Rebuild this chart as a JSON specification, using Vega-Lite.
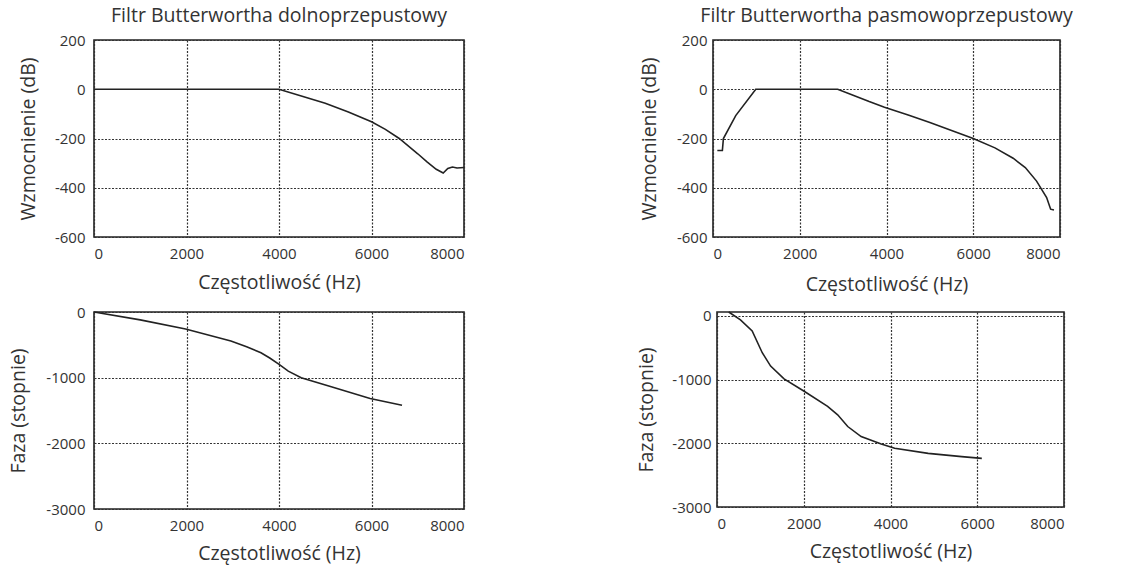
{
  "$schema": "https://vega.github.io/schema/vega-lite/v6.json",
  "background": "white",
  "padding": {"left": 8, "top": 4, "right": 5, "bottom": 2},
  "config": {
    "font": "Open Sans",
    "view": {"stroke": "#222", "strokeWidth": 1.6},
    "axis": {
      "domain": false, "ticks": false, "grid": true,
      "gridColor": "#333", "gridDash": [2, 1.5], "gridWidth": 1.2,
      "labelFont": "Open Sans", "labelFontSize": 15, "labelColor": "#333",
      "titleFont": "Open Sans", "titleFontSize": 19.5, "titleFontWeight": "normal", "titleColor": "#333",
      "labelPadding": 9, "titlePadding": 8,
      "labelExpr": "replace(datum.label, '\u2212', '-')"
    },
    "title": {"font": "Open Sans", "fontSize": 19.5, "fontWeight": "normal", "color": "#333", "offset": 7},
    "line": {"color": "#222", "strokeWidth": 1.6}
  },
  "datasets": {
    "d": [
      {"panel": "lpm", "f": 0, "v": 0}, {"panel": "lpm", "f": 4000, "v": 0}, {"panel": "lpm", "f": 4500, "v": -28},
      {"panel": "lpm", "f": 5000, "v": -57}, {"panel": "lpm", "f": 5500, "v": -92}, {"panel": "lpm", "f": 6000, "v": -132},
      {"panel": "lpm", "f": 6300, "v": -163}, {"panel": "lpm", "f": 6600, "v": -200}, {"panel": "lpm", "f": 7000, "v": -262},
      {"panel": "lpm", "f": 7200, "v": -295}, {"panel": "lpm", "f": 7400, "v": -325}, {"panel": "lpm", "f": 7550, "v": -340},
      {"panel": "lpm", "f": 7650, "v": -322}, {"panel": "lpm", "f": 7750, "v": -316}, {"panel": "lpm", "f": 7850, "v": -320},
      {"panel": "lpm", "f": 8000, "v": -318},
      {"panel": "bpm", "f": 100, "v": -249}, {"panel": "bpm", "f": 216, "v": -249}, {"panel": "bpm", "f": 240, "v": -200},
      {"panel": "bpm", "f": 524, "v": -107}, {"panel": "bpm", "f": 986, "v": 0}, {"panel": "bpm", "f": 2875, "v": 0},
      {"panel": "bpm", "f": 3200, "v": -22}, {"panel": "bpm", "f": 3600, "v": -50}, {"panel": "bpm", "f": 3953, "v": -73},
      {"panel": "bpm", "f": 4500, "v": -105}, {"panel": "bpm", "f": 5000, "v": -135}, {"panel": "bpm", "f": 5500, "v": -168},
      {"panel": "bpm", "f": 6000, "v": -200}, {"panel": "bpm", "f": 6500, "v": -238}, {"panel": "bpm", "f": 6920, "v": -280},
      {"panel": "bpm", "f": 7200, "v": -318}, {"panel": "bpm", "f": 7460, "v": -373}, {"panel": "bpm", "f": 7692, "v": -440},
      {"panel": "bpm", "f": 7784, "v": -487}, {"panel": "bpm", "f": 7861, "v": -490},
      {"panel": "lpp", "f": 0, "v": 0}, {"panel": "lpp", "f": 1000, "v": -120}, {"panel": "lpp", "f": 1980, "v": -258},
      {"panel": "lpp", "f": 2960, "v": -440}, {"panel": "lpp", "f": 3300, "v": -530}, {"panel": "lpp", "f": 3610, "v": -620},
      {"panel": "lpp", "f": 3800, "v": -700}, {"panel": "lpp", "f": 4010, "v": -800}, {"panel": "lpp", "f": 4200, "v": -900},
      {"panel": "lpp", "f": 4480, "v": -1000}, {"panel": "lpp", "f": 5130, "v": -1137}, {"panel": "lpp", "f": 5970, "v": -1318},
      {"panel": "lpp", "f": 6660, "v": -1421},
      {"panel": "bpp", "f": 270, "v": 60}, {"panel": "bpp", "f": 541, "v": -63}, {"panel": "bpp", "f": 811, "v": -237},
      {"panel": "bpp", "f": 1043, "v": -579}, {"panel": "bpp", "f": 1236, "v": -789}, {"panel": "bpp", "f": 1546, "v": -989},
      {"panel": "bpp", "f": 2009, "v": -1184}, {"panel": "bpp", "f": 2550, "v": -1421}, {"panel": "bpp", "f": 2782, "v": -1553},
      {"panel": "bpp", "f": 3014, "v": -1737}, {"panel": "bpp", "f": 3323, "v": -1895}, {"panel": "bpp", "f": 3787, "v": -2010},
      {"panel": "bpp", "f": 4096, "v": -2079}, {"panel": "bpp", "f": 4869, "v": -2158}, {"panel": "bpp", "f": 5641, "v": -2210},
      {"panel": "bpp", "f": 6105, "v": -2237}
    ]
  },
  "vconcat": [
    {
      "hconcat": [
        {
          "title": "Filtr Butterwortha dolnoprzepustowy",
          "width": 370, "height": 197,
          "data": {"name": "d"},
          "transform": [{"filter": "datum.panel == 'lpm'"}],
          "mark": "line",
          "encoding": {
            "x": {"field": "f", "type": "quantitative", "title": "Częstotliwość (Hz)", "scale": {"domain": [0, 8000]}, "axis": {"values": [0, 2000, 4000, 6000, 8000], "format": "d", "titlePadding": 12}},
            "y": {"field": "v", "type": "quantitative", "title": "Wzmocnienie (dB)", "scale": {"domain": [-600, 200]}, "axis": {"values": [-600, -400, -200, 0, 200], "titlePadding": 16}}
          }
        },
        {
          "title": "Filtr Butterwortha pasmowoprzepustowy",
          "width": 347, "height": 197,
          "data": {"name": "d"},
          "transform": [{"filter": "datum.panel == 'bpm'"}],
          "mark": "line",
          "encoding": {
            "x": {"field": "f", "type": "quantitative", "title": "Częstotliwość (Hz)", "scale": {"domain": [0, 8000]}, "axis": {"values": [0, 2000, 4000, 6000, 8000], "format": "d", "titlePadding": 14}},
            "y": {"field": "v", "type": "quantitative", "title": "Wzmocnienie (dB)", "scale": {"domain": [-600, 200]}, "axis": {"values": [-600, -400, -200, 0, 200], "labelPadding": 6, "titlePadding": 17}}
          }
        }
      ],
      "spacing": 170
    },
    {
      "hconcat": [
        {
          "width": 370, "height": 197,
          "data": {"name": "d"},
          "transform": [{"filter": "datum.panel == 'lpp'"}],
          "mark": "line",
          "encoding": {
            "x": {"field": "f", "type": "quantitative", "title": "Częstotliwość (Hz)", "scale": {"domain": [0, 8000]}, "axis": {"values": [0, 2000, 4000, 6000, 8000], "format": "d", "titlePadding": 11}},
            "y": {"field": "v", "type": "quantitative", "title": "Faza (stopnie)", "scale": {"domain": [-3000, 0]}, "axis": {"values": [-3000, -2000, -1000, 0], "format": "d", "titlePadding": 17}}
          }
        },
        {
          "width": 347, "height": 195,
          "data": {"name": "d"},
          "transform": [{"filter": "datum.panel == 'bpp'"}],
          "mark": "line",
          "encoding": {
            "x": {"field": "f", "type": "quantitative", "title": "Częstotliwość (Hz)", "scale": {"domain": [0, 8000]}, "axis": {"values": [0, 2000, 4000, 6000, 8000], "format": "d", "titlePadding": 11}},
            "y": {"field": "v", "type": "quantitative", "title": "Faza (stopnie)", "scale": {"domain": [-3000, 60]}, "axis": {"values": [-3000, -2000, -1000, 0], "format": "d", "labelPadding": 6, "titlePadding": 15}}
          }
        }
      ],
      "spacing": 171
    }
  ],
  "spacing": 9
}
